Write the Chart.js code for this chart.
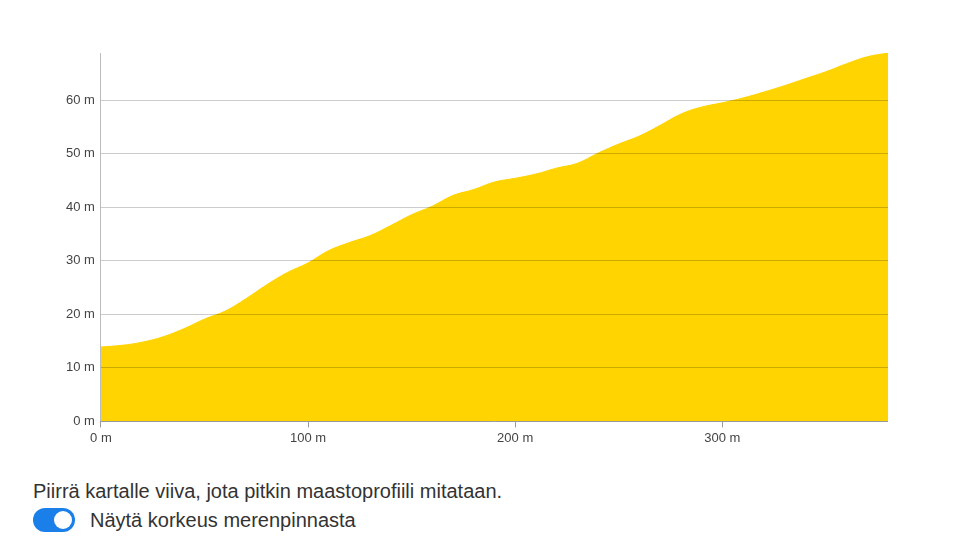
<!doctype html>
<html>
<head>
    <meta charset="UTF-8"/>
    <title>Maastoprofiili</title>
    <style type="text/css">
        body { margin: 0; padding: 0; background: #fff; font-family: 'Liberation Sans', 'Arial', sans-serif; }
        .chartBox { position: relative; width: 963px; height: 449px; }
        .info { margin: 31px 0 0 33px; font-size: 20px; color: #333; }
        .toggle { display: flex; align-items: center; margin: 5px 0 0 33px; font-size: 20px; color: #333; }
        .switch { width: 42px; height: 24px; border-radius: 12px; background: #1a7fe8; position: relative; margin-right: 15px; }
        .switch::after { content: ''; position: absolute; right: 3px; top: 3px; width: 18px; height: 18px; border-radius: 50%; background: #fff; }
    </style>
</head>
<body>
    <div class="chartBox"><canvas id="myChart"></canvas></div>
    <div class="info">Piirrä kartalle viiva, jota pitkin maastoprofiili mitataan.</div>
    <div class="toggle"><div class="switch"></div>Näytä korkeus merenpinnasta</div>

    <script src="https://cdn.jsdelivr.net/npm/chart.js"></script>
    <script>
        // distance along line (m) and elevation (m)
        const distances = [0, 10, 20, 30, 40, 50, 60, 70, 80, 90, 100, 110, 120, 130, 140, 150, 160, 170, 180, 190,
            200, 210, 220, 230, 240, 250, 260, 270, 280, 290, 300, 310, 320, 330, 340, 350, 360, 370, 380];
        const elevations = [13.9, 14.2, 14.8, 15.8, 17.3, 19.1, 20.6, 22.9, 25.5, 27.8, 29.6, 31.9, 33.4, 34.7, 36.6,
            38.6, 40.2, 42.2, 43.3, 44.7, 45.4, 46.2, 47.3, 48.2, 50.1, 51.8, 53.3, 55.3, 57.4, 58.7, 59.5, 60.4, 61.5,
            62.7, 64.0, 65.3, 66.8, 68.1, 68.8];
        const yTicks = [0, 10, 20, 30, 40, 50, 60];
        const xTicks = [0, 100, 200, 300];

        const points = distances.map((d, i) => ({ x: d, y: elevations[i] }));

        Chart.defaults.font.family = "'Liberation Sans', Arial, sans-serif";

        const myChart = new Chart(document.getElementById('myChart'), {
            type: 'line',
            data: {
                datasets: [{
                    data: points,
                    fill: 'origin',
                    backgroundColor: '#ffd400',
                    borderColor: '#ffd400',
                    borderWidth: 1,
                    pointRadius: 0,
                    tension: 0.4
                }]
            },
            options: {
                responsive: true,
                maintainAspectRatio: false,
                animation: false,
                layout: { padding: { top: 53, right: 75, left: 60 } },
                plugins: { legend: { display: false }, tooltip: { enabled: false } },
                scales: {
                    x: {
                        type: 'linear',
                        min: 0,
                        max: 380,
                        afterBuildTicks: axis => { axis.ticks = xTicks.map(v => ({ value: v })); },
                        ticks: { callback: v => v + ' m', color: '#444', font: { size: 13 }, maxRotation: 0 },
                        grid: {
                            z: 1,
                            tickLength: 6,
                            tickColor: '#999',
                            color: ctx => (ctx.tick && ctx.tick.value === 0) ? '#bbb' : 'rgba(0,0,0,0)'
                        },
                        border: { display: false }
                    },
                    y: {
                        min: 0,
                        max: 68.8,
                        afterBuildTicks: axis => { axis.ticks = yTicks.map(v => ({ value: v })); },
                        ticks: { callback: v => v + ' m', color: '#444', font: { size: 13 }, padding: 6 },
                        grid: {
                            z: 1,
                            drawTicks: false,
                            color: ctx => (ctx.tick && ctx.tick.value === 0) ? '#999' : 'rgba(0,0,0,0.2)'
                        },
                        border: { display: false }
                    }
                }
            }
        });
    </script>
</body>
</html>
